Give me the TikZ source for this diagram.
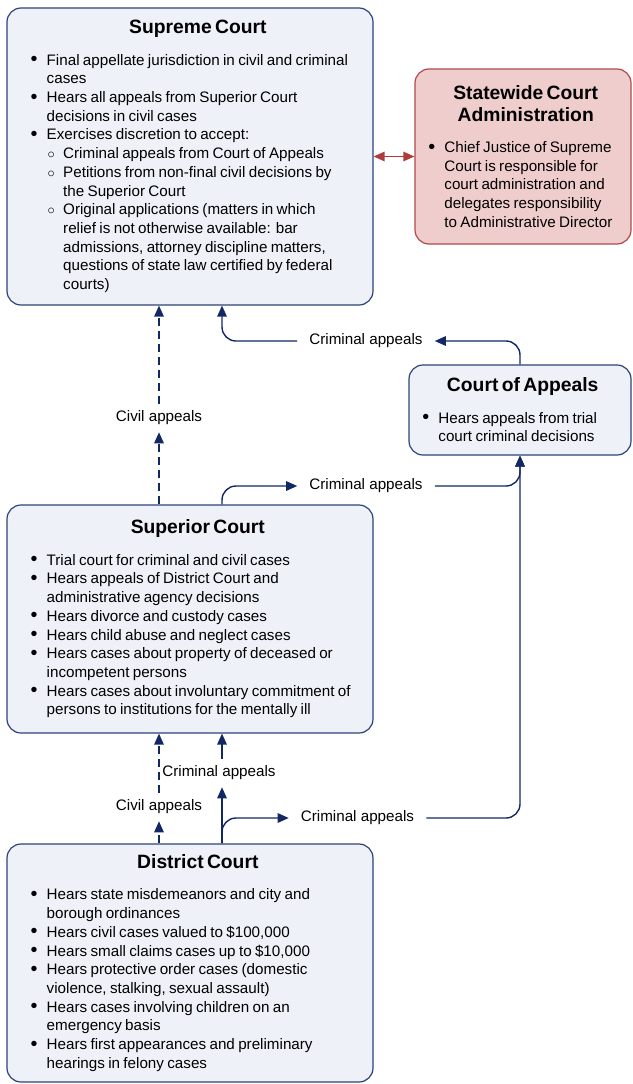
\documentclass[tikz,border=0pt]{standalone}
\usepackage{fontspec}
\setmainfont{Liberation Sans}
\usepackage{graphicx}
\usepackage{xcolor}
\usepackage{tikz}
\usetikzlibrary{positioning, arrows.meta}

\definecolor{courtDraw}{RGB}{44,68,120}
\definecolor{courtFill}{RGB}{238,241,247}
\definecolor{adminDraw}{RGB}{176,74,74}
\definecolor{adminFill}{RGB}{240,205,205}
\definecolor{appealDraw}{RGB}{18,40,100}
\definecolor{adminArrow}{RGB}{172,60,60}

\newlength{\courtindent}
\newcommand{\courttitle}[1]{{\leftskip=1\courtindent plus 1fil\rightskip=0pt plus 1fil\parfillskip=0pt\let\\\par\fontsize{19.3}{21.7}\selectfont\bfseries #1\par}\vspace{12.6pt}}
\newcommand{\courtitem}{\par\noindent\hangindent=16pt\hangafter=1\makebox[16pt][l]{\raisebox{-0.6pt}{\scalebox{1.3}{\textbullet}}}}
\newcommand{\courtsubitem}{\par\noindent\hangindent=32.5pt\hangafter=1\hspace*{17pt}\makebox[15.5pt][l]{$\circ$}}

\begin{document}
\begin{tikzpicture}[x=1pt, y=-1pt]
% style: CourtBox_style
\tikzstyle{CourtBox_style}=[rectangle,rounded corners=14pt,line width=1.2pt,draw=courtDraw,fill=courtFill,inner xsep=8pt,inner ysep=0pt,text width=350pt,minimum width=366pt,execute at begin node={\setlength{\courtindent}{15.7pt}\leftskip=1\courtindent\rightskip=0pt plus 1fil\parindent=0pt\fontsize{15.2}{18.7}\selectfont}]
% style: SideBox_style
\tikzstyle{SideBox_style}=[rectangle,rounded corners=14pt,line width=1.2pt,draw=courtDraw,fill=courtFill,inner xsep=8pt,inner ysep=0pt,execute at begin node={\setlength{\courtindent}{5.4pt}\leftskip=1\courtindent\rightskip=0pt plus 1fil\parindent=0pt\fontsize{15.2}{18.7}\selectfont}]
% style: AdminBox_style
\tikzstyle{AdminBox_style}=[SideBox_style,draw=adminDraw,fill=adminFill]
% style: crimEdge
\tikzstyle{crimEdge}=[draw=appealDraw,line width=1.4pt,rounded corners=14pt,-{Triangle[length=11pt,width=9.5pt]}]
% style: civilEdge
\tikzstyle{civilEdge}=[draw=appealDraw,line width=1.4pt,dash pattern=on 8pt off 5pt,-{Triangle[length=11pt,width=9.5pt]}]
% style: adminEdge
\tikzstyle{adminEdge}=[draw=adminArrow,line width=1.4pt,{Triangle[length=11pt,width=9.5pt]}-{Triangle[length=11pt,width=9.5pt]}]
% style: defaultLabel
\tikzstyle{defaultLabel}=[font=\fontsize{15.2}{18}\selectfont,inner xsep=12pt,inner ysep=7pt]

\useasboundingbox (0,0) rectangle (632,1084);

% node group: top_group
% node: supreme_court
\node[CourtBox_style, minimum height=297pt] (supreme_court) at (190, 156.5)
    {\courttitle{Supreme Court}
    \courtitem Final appellate jurisdiction in civil and criminal\newline cases
    \courtitem Hears all appeals from Superior Court\newline decisions in civil cases
    \courtitem Exercises discretion to accept:
    \courtsubitem Criminal appeals from Court of Appeals
    \courtsubitem Petitions from non-final civil decisions by\newline the Superior Court
    \courtsubitem Original applications (matters in which\newline relief is not otherwise available: bar\newline admissions, attorney discipline matters,\newline questions of state law certified by federal\newline courts)\par};
% node: statewide_admin
\node[AdminBox_style, text width=200pt, minimum width=216pt, minimum height=175pt] (statewide_admin) at (523, 156.5)
    {\courttitle{Statewide Court\\Administration}
    \courtitem Chief Justice of Supreme\newline Court is responsible for\newline court administration and\newline delegates responsibility\newline to Administrative Director\par};
% end of node group: top_group

% node group: appeals_group
% node: court_of_appeals
\node[SideBox_style, text width=206pt, minimum width=222pt, minimum height=90pt] (court_of_appeals) at (520, 410)
    {\courttitle{Court of Appeals}
    \courtitem Hears appeals from trial\newline court criminal decisions\par};
% end of node group: appeals_group

% node group: trial_group
% node: superior_court
\node[CourtBox_style, minimum height=228pt] (superior_court) at (190, 619)
    {\courttitle{Superior Court}
    \courtitem Trial court for criminal and civil cases
    \courtitem Hears appeals of District Court and\newline administrative agency decisions
    \courtitem Hears divorce and custody cases
    \courtitem Hears child abuse and neglect cases
    \courtitem Hears cases about property of deceased or\newline incompetent persons
    \courtitem Hears cases about involuntary commitment of\newline persons to institutions for the mentally ill\par};
% node: district_court
\node[CourtBox_style, minimum height=238pt] (district_court) at (190, 963)
    {\courttitle{District Court}
    \courtitem Hears state misdemeanors and city and\newline borough ordinances
    \courtitem Hears civil cases valued to \$100,000
    \courtitem Hears small claims cases up to \$10,000
    \courtitem Hears protective order cases (domestic\newline violence, stalking, sexual assault)
    \courtitem Hears cases involving children on an\newline emergency basis
    \courtitem Hears first appearances and preliminary\newline hearings in felony cases\par};
% end of node group: trial_group

% labels
\node[defaultLabel] (civil_appeals_upper) at (159, 418) {Civil appeals};
\node[defaultLabel] (criminal_appeals_upper) at (366, 341) {Criminal appeals};
\node[defaultLabel] (criminal_appeals_middle) at (366, 486) {Criminal appeals};
\node[defaultLabel] (criminal_appeals_district) at (219, 773) {Criminal appeals};
\node[defaultLabel] (civil_appeals_lower) at (159, 807) {Civil appeals};
\node[defaultLabel] (criminal_appeals_lower) at (357.5, 818) {Criminal appeals};

% edge from supreme_court to statewide_admin
\draw[adminEdge] (supreme_court.east) -- (statewide_admin.west);

% edge from superior_court to supreme_court (civil)
\draw[civilEdge] (civil_appeals_upper |- superior_court.north) -- (civil_appeals_upper.south);
\draw[civilEdge] (civil_appeals_upper.north) -- (civil_appeals_upper |- supreme_court.south);

% edge from court_of_appeals to supreme_court
\draw[crimEdge] (court_of_appeals.north) |- (criminal_appeals_upper.east);
\draw[crimEdge] (criminal_appeals_upper.west) -| ([xshift=32pt]supreme_court.south);

% edge from superior_court to court_of_appeals
\draw[crimEdge] ([xshift=32pt]superior_court.north) |- (criminal_appeals_middle.west);
\draw[crimEdge] (criminal_appeals_middle.east) -| (court_of_appeals.south);

% edge from district_court to superior_court (criminal)
\draw[crimEdge] ([xshift=32pt]district_court.north) -- ([xshift=32pt]district_court.north |- criminal_appeals_district.south);
\draw[crimEdge] ([xshift=32pt]superior_court.south |- criminal_appeals_district.north) -- ([xshift=32pt]superior_court.south);

% edge from district_court to superior_court (civil)
\draw[civilEdge] (civil_appeals_lower |- district_court.north) -- (civil_appeals_lower.south);
\draw[civilEdge] (civil_appeals_lower.north) -- (civil_appeals_lower |- superior_court.south);

% edge from district_court to court_of_appeals
\draw[crimEdge] ([xshift=32pt]district_court.north) |- (criminal_appeals_lower.west);
\draw[crimEdge] (criminal_appeals_lower.east) -| (court_of_appeals.south);

\end{tikzpicture}
\end{document}
